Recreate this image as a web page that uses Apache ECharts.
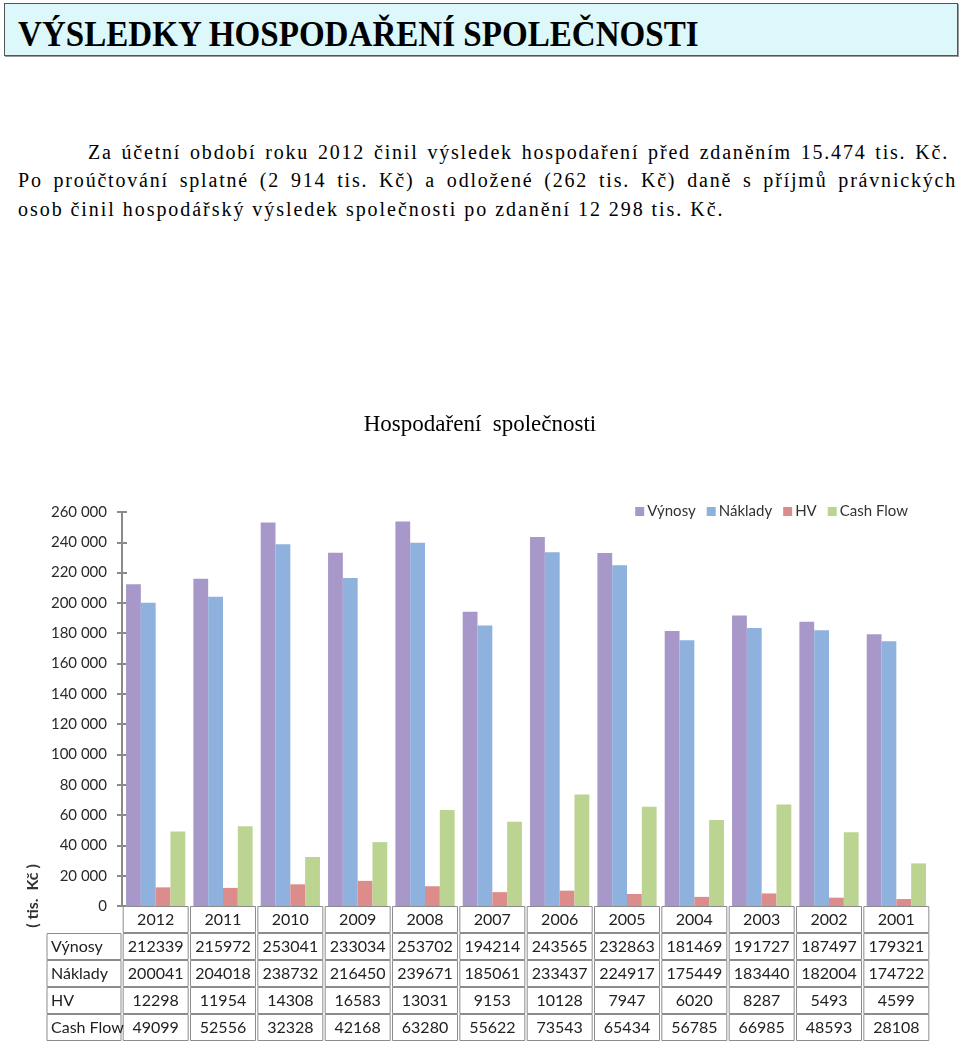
<!DOCTYPE html>
<html>
<head>
<meta charset="utf-8">
<script src="https://cdn.jsdelivr.net/npm/echarts@6/dist/echarts.min.js"></script>
<style>
  html, body { margin: 0; padding: 0; background: #fff; }
  body { width: 960px; height: 1044px; position: relative; overflow: hidden; }
  #hdr { position: absolute; left: 4px; top: 3px; width: 952px; height: 51px; background: #dcf8fb; border: 1px solid #555; box-shadow: 1px 1px 0 #999; }
  #hdr span { position: absolute; left: 13px; top: 12px; font-family: "Liberation Serif", serif; font-weight: bold; font-size: 35px; line-height: 38px; color: #000; transform: scaleX(0.945); transform-origin: 0 0; white-space: nowrap; }
  .ln { position: absolute; font-family: "Liberation Serif", serif; font-size: 20px; line-height: 24px; color: #000; white-space: nowrap; letter-spacing: 1.8px; }
  .j { text-align: justify; text-align-last: justify; white-space: normal; }
  #chart { position: absolute; left: 0; top: 390px; width: 960px; height: 654px; }
</style>
</head>
<body>
<div id="hdr"><span>VÝSLEDKY HOSPODAŘENÍ SPOLEČNOSTI</span></div>
<div class="ln j" style="left:88px; top:140px; width:861px;">Za účetní období roku 2012 činil výsledek hospodaření před zdaněním 15.474 tis. Kč.</div>
<div class="ln j" style="left:18px; top:168px; width:939px;">Po proúčtování splatné (2 914 tis. Kč) a odložené (262 tis. Kč) daně s příjmů právnických</div>
<div class="ln" style="left:18px; top:197px; letter-spacing:1.95px;">osob činil hospodářský výsledek společnosti po zdanění 12 298 tis. Kč.</div>
<div id="chart"></div>
<script>
const years = ['2012','2011','2010','2009','2008','2007','2006','2005','2004','2003','2002','2001'];
const vynosy = [212339,215972,253041,233034,253702,194214,243565,232863,181469,191727,187497,179321];
const naklady = [200041,204018,238732,216450,239671,185061,233437,224917,175449,183440,182004,174722];
const hv = [12298,11954,14308,16583,13031,9153,10128,7947,6020,8287,5493,4599];
const cashFlow = [49099,52556,32328,42168,63280,55622,73543,65434,56785,66985,48593,28108];
const seriesNames = ['Výnosy','Náklady','HV','Cash Flow'];
const yTicks = [0,20000,40000,60000,80000,100000,120000,140000,160000,180000,200000,220000,240000,260000];

const seriesData = [vynosy, naklady, hv, cashFlow];
const colors = ['#a898c9','#8fb1dd','#dc8d8b','#bcd491'];
const font = 'Lato, "Open Sans", sans-serif';
const fmt = v => String(v).replace(/\B(?=(\d{3})+(?!\d))/g, ' ');

const cell = { width: 65, height: 26, lineHeight: 27, align: 'center', borderColor: '#8c8c8c', borderWidth: 1, fontSize: 16, fontWeight: 'normal', color: '#222', fontFamily: font, padding: [0,0,0,0] };
const hcell = Object.assign({}, cell, { width: 70, align: 'left', padding: [0,0,0,4] });
const ecell = Object.assign({}, hcell, { borderWidth: 0 });

const chart = echarts.init(document.getElementById('chart'), null, { renderer: 'canvas' });
chart.setOption({
  animation: false,
  backgroundColor: '#fff',
  color: colors,
  title: [
    { text: 'Hospodaření  společnosti', left: 'center', top: 18, textStyle: { fontFamily: '"Liberation Serif", serif', fontWeight: 'normal', fontSize: 23, color: '#000' } },
    { text: ['{e| }'].concat(seriesNames.map(n => '{h|' + n + '}')).join('\n'), left: 47, top: 516, padding: 0, itemGap: 0,
      textStyle: { rich: { h: hcell, e: ecell }, lineHeight: 27, fontWeight: 'normal' } }
  ],
  legend: {
    data: seriesNames, right: 47, top: 109, itemWidth: 9, itemHeight: 9, itemGap: 11,
    textStyle: { fontFamily: font, fontSize: 15, color: '#333', padding: [0,0,0,-2] }, icon: 'rect'
  },
  grid: { left: 122, right: 30, top: 122, bottom: 138 },
  xAxis: {
    type: 'category', data: years,
    axisLine: { show: false }, axisTick: { show: false },
    axisLabel: {
      interval: 0, margin: 0, hideOverlap: false,
      formatter: (v, i) => ['{c|' + v + '}'].concat(seriesData.map(d => '{c|' + d[i] + '}')).join('\n'),
      rich: { c: cell }
    }
  },
  yAxis: [
    { type: 'value', min: 0, max: 260000, interval: 20000, splitLine: { show: false },
      axisLine: { show: true, lineStyle: { color: '#8a8a8a', width: 2 } },
      axisTick: { show: true, length: 5, lineStyle: { color: '#8a8a8a', width: 2 } },
      axisLabel: { formatter: fmt, fontFamily: font, fontSize: 15, color: '#2a2a2a', margin: 15 } },
    { type: 'value', min: 0, max: 260000, interval: 20000, position: 'left', splitLine: { show: false },
      axisLine: { show: false },
      axisTick: { show: true, inside: true, length: 5, lineStyle: { color: '#8a8a8a', width: 2 } },
      axisLabel: { show: false } }
  ],
  graphic: [
    { type: 'text', x: 33, y: 506, rotation: Math.PI / 2, style: { text: '( tis.  Kč )', fontFamily: font, fontWeight: 'bold', fontSize: 16, fill: '#333', textAlign: 'center', textVerticalAlign: 'middle' } }
  ],
  series: seriesNames.map((n, k) => ({
    name: n, type: 'bar', data: seriesData[k], barGap: '0%', barCategoryGap: '12%', yAxisIndex: 0
  }))
});
</script>
</body>
</html>
